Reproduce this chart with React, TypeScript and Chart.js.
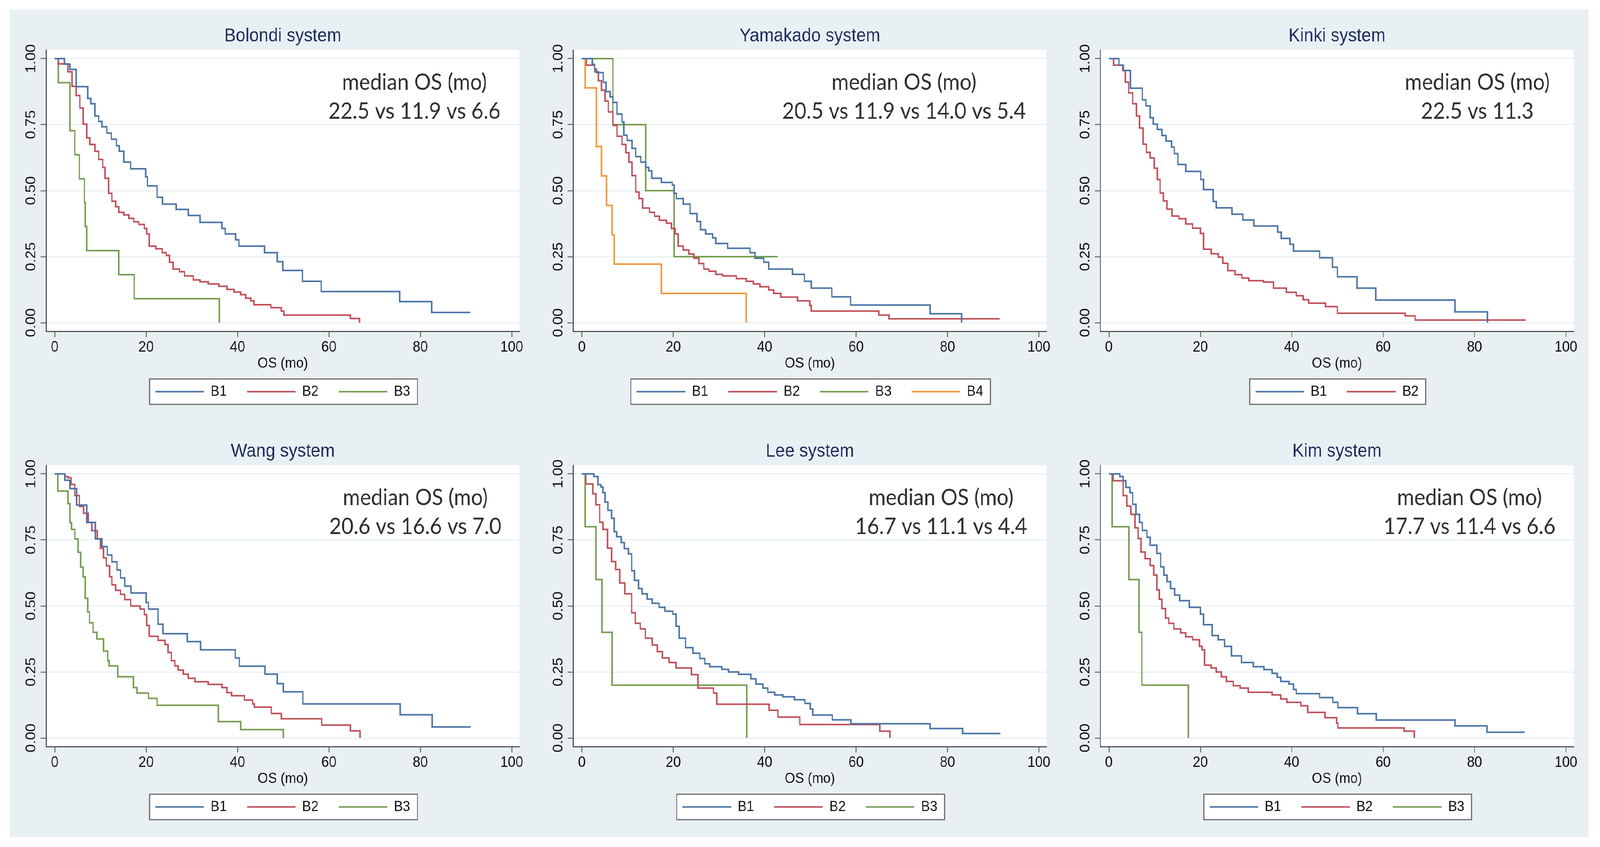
import React, { useEffect, useRef, useState } from 'react';
import { Chart, registerables } from 'chart.js';

Chart.register(...registerables);

// ---------- axis ticks & labels ----------
const xTickValues = [0, 20, 40, 60, 80, 100];
const yTickValues = [0, 0.25, 0.5, 0.75, 1];
const xAxisTitle = 'OS (mo)';
const noteHeader = 'median OS (mo)';

// ---------- Bolondi ----------
const bolondiB1Time = [0, 2.1, 3.3, 4.7, 7.2, 7.9, 8.8, 9.6, 10.3, 11.4, 12.4, 13.5, 14.1, 15.1, 16.6, 19.9, 20.3, 22.4, 23.6, 26.6, 29.2, 31.8, 36.6, 37.3, 39.6, 40.3, 45.9, 48.7, 49.9, 54.2, 58.3, 75.5, 82.5, 90.9];
const bolondiB1Surv = [1, 0.979, 0.959, 0.894, 0.849, 0.829, 0.783, 0.762, 0.742, 0.718, 0.695, 0.67, 0.649, 0.608, 0.583, 0.552, 0.518, 0.475, 0.449, 0.429, 0.406, 0.38, 0.357, 0.336, 0.314, 0.29, 0.265, 0.231, 0.198, 0.157, 0.118, 0.08, 0.039, 0.039];
const bolondiB2Time = [0, 0.8, 2.9, 3.8, 4.7, 5.5, 6.2, 7.0, 7.7, 8.8, 9.6, 10.5, 11.0, 11.8, 12.5, 13.3, 14.0, 15.1, 16.2, 17.3, 18.4, 19.6, 20.1, 20.7, 22.1, 23.5, 24.4, 25.1, 25.9, 27.3, 28.4, 30.3, 31.8, 33.6, 35.9, 37.7, 39.2, 40.7, 41.8, 42.9, 43.6, 47.3, 49.6, 50.1, 64.7, 66.7];
const bolondiB2Surv = [1, 0.98, 0.95, 0.895, 0.86, 0.813, 0.752, 0.7, 0.675, 0.649, 0.618, 0.588, 0.547, 0.49, 0.46, 0.439, 0.418, 0.408, 0.395, 0.382, 0.372, 0.357, 0.336, 0.29, 0.28, 0.265, 0.255, 0.229, 0.203, 0.193, 0.177, 0.162, 0.155, 0.147, 0.138, 0.126, 0.116, 0.106, 0.093, 0.083, 0.068, 0.057, 0.044, 0.029, 0.016, 0];
const bolondiB3Time = [0, 0.8, 3.3, 4.4, 5.4, 6.5, 6.7, 7.0, 14.0, 17.4, 36.0];
const bolondiB3Surv = [1, 0.909, 0.727, 0.636, 0.545, 0.455, 0.364, 0.273, 0.182, 0.091, 0];

// ---------- Yamakado ----------
const yamakadoB1Time = [0, 2.3, 2.8, 3.2, 4.7, 5.3, 6.2, 6.8, 7.7, 8.8, 9.2, 9.9, 11.0, 11.8, 12.9, 14.0, 14.6, 15.3, 17.4, 19.8, 20.2, 20.7, 22.2, 23.7, 25.2, 26.0, 27.1, 28.6, 29.3, 31.9, 36.8, 37.9, 39.8, 40.9, 46.1, 48.7, 50.2, 54.7, 58.8, 76.2, 83.1];
const yamakadoB1Surv = [1, 0.978, 0.96, 0.947, 0.91, 0.875, 0.855, 0.834, 0.79, 0.76, 0.71, 0.69, 0.66, 0.629, 0.608, 0.588, 0.575, 0.547, 0.531, 0.521, 0.49, 0.47, 0.449, 0.413, 0.383, 0.352, 0.336, 0.321, 0.3, 0.282, 0.265, 0.244, 0.229, 0.203, 0.183, 0.157, 0.131, 0.098, 0.067, 0.034, 0];
const yamakadoB2Time = [0, 1.0, 2.8, 3.6, 4.3, 5.1, 5.8, 6.8, 7.7, 8.8, 9.6, 10.3, 11.0, 11.8, 12.5, 13.3, 14.8, 15.9, 17.0, 18.5, 19.6, 20.4, 21.1, 22.2, 23.4, 24.5, 25.6, 26.7, 27.8, 29.3, 30.8, 33.8, 36.0, 37.5, 39.0, 40.9, 42.0, 43.5, 47.2, 49.9, 50.2, 65.0, 67.2, 91.4];
const yamakadoB2Surv = [1, 0.975, 0.95, 0.916, 0.88, 0.839, 0.798, 0.747, 0.706, 0.675, 0.644, 0.608, 0.557, 0.495, 0.47, 0.434, 0.418, 0.403, 0.388, 0.377, 0.357, 0.336, 0.29, 0.275, 0.26, 0.244, 0.224, 0.203, 0.195, 0.183, 0.177, 0.167, 0.157, 0.147, 0.136, 0.124, 0.111, 0.097, 0.083, 0.065, 0.044, 0.029, 0.015, 0.015];
const yamakadoB3Time = [0, 6.8, 14.0, 20.2, 42.9];
const yamakadoB3Surv = [1, 0.75, 0.5, 0.25, 0.25];
const yamakadoB4Time = [0, 0.7, 3.2, 4.3, 5.4, 6.6, 7.1, 17.4, 36.0];
const yamakadoB4Surv = [1, 0.889, 0.667, 0.556, 0.444, 0.333, 0.222, 0.111, 0];

// ---------- Kinki ----------
const kinkiB1Time = [0, 2.2, 3.2, 4.7, 7.3, 8.1, 9.0, 9.7, 10.6, 11.6, 12.5, 13.7, 14.3, 15.1, 16.8, 20.1, 20.7, 22.8, 23.5, 26.9, 29.3, 31.7, 36.9, 37.7, 39.6, 40.4, 46.1, 48.9, 50.0, 54.3, 58.4, 75.7, 82.8];
const kinkiB1Surv = [1, 0.975, 0.955, 0.888, 0.844, 0.821, 0.776, 0.752, 0.732, 0.709, 0.688, 0.665, 0.64, 0.599, 0.573, 0.542, 0.504, 0.459, 0.435, 0.411, 0.389, 0.366, 0.343, 0.319, 0.297, 0.271, 0.246, 0.21, 0.174, 0.131, 0.086, 0.041, 0];
const kinkiB2Time = [0, 1.0, 3.0, 3.6, 4.3, 5.2, 6.0, 6.7, 7.5, 8.2, 9.0, 9.9, 10.6, 11.2, 11.9, 12.7, 13.8, 15.3, 16.8, 18.3, 20.0, 20.7, 22.4, 23.9, 24.9, 26.0, 27.6, 29.1, 30.6, 33.8, 36.0, 38.8, 41.0, 42.5, 43.7, 47.4, 50.0, 64.8, 67.0, 91.2];
const kinkiB2Surv = [1, 0.975, 0.955, 0.911, 0.87, 0.829, 0.783, 0.737, 0.676, 0.645, 0.624, 0.585, 0.542, 0.491, 0.461, 0.43, 0.404, 0.394, 0.374, 0.358, 0.338, 0.278, 0.261, 0.248, 0.225, 0.197, 0.182, 0.169, 0.159, 0.154, 0.131, 0.115, 0.102, 0.087, 0.074, 0.061, 0.036, 0.026, 0.01, 0.01];

// ---------- Wang ----------
const wangB1Time = [0, 2.2, 3.3, 4.8, 7.0, 8.9, 10.3, 11.5, 12.5, 13.6, 14.4, 15.3, 16.7, 20.0, 20.5, 22.6, 23.7, 29.0, 31.9, 39.5, 40.4, 46.0, 48.7, 50.0, 54.3, 75.6, 82.6, 91.0];
const wangB1Surv = [1, 0.976, 0.944, 0.882, 0.816, 0.754, 0.725, 0.693, 0.667, 0.636, 0.606, 0.575, 0.549, 0.513, 0.488, 0.431, 0.395, 0.365, 0.334, 0.303, 0.272, 0.242, 0.206, 0.175, 0.129, 0.088, 0.042, 0.042];
const wangB2Time = [0, 2.2, 2.9, 3.6, 4.4, 5.4, 6.3, 7.3, 8.1, 9.3, 10.0, 10.7, 11.3, 12.0, 12.5, 13.3, 14.4, 15.3, 16.6, 18.7, 19.6, 20.1, 20.7, 22.6, 24.1, 24.8, 25.5, 26.3, 27.0, 28.1, 29.2, 30.7, 33.6, 36.6, 37.7, 38.7, 41.5, 43.3, 43.7, 47.4, 49.6, 58.4, 64.7, 66.8];
const wangB2Surv = [1, 0.99, 0.985, 0.96, 0.918, 0.877, 0.851, 0.816, 0.785, 0.754, 0.718, 0.682, 0.652, 0.611, 0.58, 0.559, 0.544, 0.524, 0.5, 0.488, 0.467, 0.426, 0.385, 0.37, 0.354, 0.324, 0.293, 0.273, 0.257, 0.242, 0.226, 0.213, 0.203, 0.191, 0.172, 0.16, 0.144, 0.129, 0.117, 0.093, 0.073, 0.049, 0.027, 0];
const wangB3Time = [0, 0.7, 2.9, 3.3, 3.7, 4.4, 5.1, 5.7, 6.2, 6.7, 7.2, 7.6, 8.4, 9.2, 10.7, 11.6, 11.9, 13.8, 17.2, 18.0, 20.5, 22.4, 35.8, 40.7, 50.0];
const wangB3Surv = [1, 0.935, 0.887, 0.815, 0.79, 0.754, 0.703, 0.647, 0.61, 0.529, 0.477, 0.436, 0.4, 0.375, 0.329, 0.293, 0.273, 0.232, 0.191, 0.17, 0.15, 0.124, 0.062, 0.032, 0];

// ---------- Lee ----------
const leeB1Time = [0, 2.6, 3.5, 4.2, 4.6, 5.1, 5.7, 6.5, 7.1, 7.6, 8.6, 9.3, 10.2, 10.9, 11.5, 12.4, 13.2, 14.3, 15.4, 16.9, 18.2, 19.9, 20.6, 21.3, 22.7, 24.3, 25.8, 26.9, 28.0, 30.6, 32.1, 34.3, 37.0, 38.1, 39.6, 40.7, 42.2, 44.0, 46.5, 48.8, 50.0, 50.5, 54.8, 58.9, 76.2, 83.3, 91.6];
const leeB1Surv = [1, 0.99, 0.959, 0.95, 0.929, 0.893, 0.862, 0.832, 0.781, 0.762, 0.74, 0.717, 0.697, 0.633, 0.597, 0.566, 0.546, 0.526, 0.51, 0.495, 0.48, 0.469, 0.423, 0.378, 0.342, 0.321, 0.301, 0.281, 0.27, 0.26, 0.25, 0.241, 0.224, 0.204, 0.189, 0.173, 0.163, 0.156, 0.145, 0.131, 0.11, 0.087, 0.069, 0.054, 0.036, 0.017, 0.017];
const leeB2Time = [0, 0.9, 2.4, 3.1, 3.9, 4.6, 5.6, 6.5, 7.4, 8.3, 9.4, 10.9, 11.7, 12.8, 13.9, 15.4, 16.5, 17.6, 19.1, 20.6, 24.0, 25.4, 28.8, 29.5, 41.0, 42.9, 47.7, 65.2, 67.4];
const leeB2Surv = [1, 0.962, 0.925, 0.883, 0.817, 0.79, 0.719, 0.668, 0.638, 0.587, 0.546, 0.474, 0.434, 0.413, 0.378, 0.352, 0.327, 0.303, 0.286, 0.265, 0.24, 0.189, 0.17, 0.128, 0.105, 0.079, 0.051, 0.026, 0];
const leeB3Time = [0, 0.7, 3.1, 4.4, 6.6, 36.1];
const leeB3Surv = [1, 0.8, 0.6, 0.4, 0.2, 0];

// ---------- Kim ----------
const kimB1Time = [0, 2.4, 3.1, 3.7, 4.6, 5.2, 5.9, 6.7, 7.3, 8.3, 9.0, 10.5, 11.3, 12.0, 12.7, 13.5, 14.4, 15.5, 17.6, 20.0, 20.7, 22.6, 23.9, 25.3, 26.8, 29.0, 31.6, 33.9, 35.7, 36.8, 37.6, 39.4, 40.4, 41.0, 46.1, 49.0, 50.1, 54.4, 58.5, 75.7, 82.7, 91.0];
const kimB1Surv = [1, 0.99, 0.974, 0.949, 0.929, 0.885, 0.847, 0.816, 0.786, 0.76, 0.73, 0.699, 0.648, 0.617, 0.592, 0.566, 0.541, 0.52, 0.495, 0.469, 0.429, 0.388, 0.372, 0.347, 0.311, 0.286, 0.27, 0.259, 0.245, 0.23, 0.214, 0.204, 0.184, 0.168, 0.153, 0.135, 0.115, 0.092, 0.068, 0.046, 0.022, 0.022];
const kimB2Time = [0, 0.9, 3.1, 3.9, 4.8, 5.7, 6.4, 7.0, 7.9, 9.0, 9.8, 10.5, 11.0, 11.6, 12.4, 13.1, 14.2, 15.7, 16.8, 18.3, 19.8, 20.4, 20.9, 22.4, 23.5, 24.6, 25.7, 27.2, 28.7, 30.5, 35.7, 37.6, 38.9, 42.0, 43.5, 47.3, 49.8, 50.1, 64.6, 66.8];
const kimB2Surv = [1, 0.974, 0.918, 0.878, 0.847, 0.796, 0.755, 0.704, 0.679, 0.653, 0.617, 0.561, 0.525, 0.49, 0.454, 0.434, 0.413, 0.398, 0.383, 0.372, 0.347, 0.334, 0.276, 0.265, 0.25, 0.232, 0.214, 0.198, 0.189, 0.173, 0.163, 0.148, 0.135, 0.122, 0.097, 0.077, 0.056, 0.038, 0.026, 0];
const kimB3Time = [0, 0.7, 4.4, 6.6, 7.2, 17.4];
const kimB3Surv = [1, 0.8, 0.6, 0.4, 0.2, 0];

// ---------- median notes ----------
const bolondiMedians = '22.5 vs 11.9 vs 6.6';
const yamakadoMedians = '20.5 vs 11.9 vs 14.0 vs 5.4';
const kinkiMedians = '22.5 vs 11.3';
const wangMedians = '20.6 vs 16.6 vs 7.0';
const leeMedians = '16.7 vs 11.1 vs 4.4';
const kimMedians = '17.7 vs 11.4 vs 6.6';

// ---------- styles ----------
const LINE_COLORS = ['#4a74a5', '#c04f58', '#759d52', '#f3983a'];
const PAGE_W = 4447;
const PAGE_H = 2168;
const CANVAS_W = 1464;
const CANVAS_H = 1060;
const COL_LEFT = [27, 1492, 2957];
const ROW_TOP = [24, 1087];
const SANS = '"Liberation Sans", Arial, Helvetica, sans-serif';
const NOTE_FONT = 'Lato, "Open Sans", sans-serif';

type Panel = {
  title: string;
  series: [number[], number[]][];
  labels: string[];
  medians: string;
  noteX: number;
  col: number;
  row: number;
};

const panels: Panel[] = [
  { title: 'Bolondi system', series: [[bolondiB1Time, bolondiB1Surv], [bolondiB2Time, bolondiB2Surv], [bolondiB3Time, bolondiB3Surv]], labels: ['B1', 'B2', 'B3'], medians: bolondiMedians, noteX: 78.7, col: 0, row: 0 },
  { title: 'Yamakado system', series: [[yamakadoB1Time, yamakadoB1Surv], [yamakadoB2Time, yamakadoB2Surv], [yamakadoB3Time, yamakadoB3Surv], [yamakadoB4Time, yamakadoB4Surv]], labels: ['B1', 'B2', 'B3', 'B4'], medians: yamakadoMedians, noteX: 70.5, col: 1, row: 0 },
  { title: 'Kinki system', series: [[kinkiB1Time, kinkiB1Surv], [kinkiB2Time, kinkiB2Surv]], labels: ['B1', 'B2'], medians: kinkiMedians, noteX: 80.6, col: 2, row: 0 },
  { title: 'Wang system', series: [[wangB1Time, wangB1Surv], [wangB2Time, wangB2Surv], [wangB3Time, wangB3Surv]], labels: ['B1', 'B2', 'B3'], medians: wangMedians, noteX: 78.9, col: 0, row: 1 },
  { title: 'Lee system', series: [[leeB1Time, leeB1Surv], [leeB2Time, leeB2Surv], [leeB3Time, leeB3Surv]], labels: ['B1', 'B2', 'B3'], medians: leeMedians, noteX: 78.6, col: 1, row: 1 },
  { title: 'Kim system', series: [[kimB1Time, kimB1Surv], [kimB2Time, kimB2Surv], [kimB3Time, kimB3Surv]], labels: ['B1', 'B2', 'B3'], medians: kimMedians, noteX: 78.9, col: 2, row: 1 },
];

const decorPlugin = {
  id: 'decor',
  beforeDraw(chart: any) {
    const { ctx, chartArea } = chart;
    ctx.save();
    ctx.fillStyle = '#ffffff';
    ctx.fillRect(chartArea.left, chartArea.top, chartArea.right - chartArea.left, chartArea.bottom - chartArea.top);
    const lg = chart.legend;
    if (lg && lg.legendHitBoxes && lg.legendHitBoxes.length) {
      const hb = lg.legendHitBoxes;
      const first = hb[0];
      const last = hb[hb.length - 1];
      const cy = first.top + first.height / 2;
      const x0 = first.left - 16;
      const x1 = last.left + last.width + 20;
      ctx.fillStyle = '#ffffff';
      ctx.fillRect(x0, cy - 32.5, x1 - x0, 65);
      ctx.strokeStyle = '#6a6a6a';
      ctx.lineWidth = 3;
      ctx.strokeRect(x0, cy - 32.5, x1 - x0, 65);
    }
    ctx.restore();
  },
  afterDatasetsDraw(chart: any) {
    const o = chart.config.options.plugins.decor;
    if (!o) return;
    const { ctx, scales } = chart;
    ctx.save();
    ctx.fillStyle = '#303030';
    ctx.textAlign = 'center';
    ctx.textBaseline = 'middle';
    ctx.font = `400 ${o.size}px ${NOTE_FONT}`;
    const px = scales.x.getPixelForValue(o.x);
    o.lines.forEach((t: string, i: number) => {
      ctx.fillText(t, px, scales.y.getPixelForValue(o.y[i]));
    });
    ctx.restore();
  },
};

function PanelChart({ p }: { p: Panel }) {
  const ref = useRef<HTMLCanvasElement | null>(null);
  useEffect(() => {
    if (!ref.current) return;
    const tickFont = { family: SANS, size: 38, lineHeight: 1 };
    const chart = new Chart(ref.current, {
      type: 'line',
      data: {
        datasets: p.series.map(([t, s], i) => ({
          label: p.labels[i],
          data: t.map((tv, k) => ({ x: tv, y: s[k] })),
          borderColor: LINE_COLORS[i],
          backgroundColor: LINE_COLORS[i],
          borderWidth: 4,
          pointRadius: 0,
          pointHoverRadius: 0,
          stepped: true,
          fill: false,
        })),
      },
      options: {
        animation: false,
        responsive: false,
        devicePixelRatio: 1,
        events: [],
        layout: { padding: { left: 0, right: 47, top: 0, bottom: 53 } },
        plugins: {
          title: {
            display: true,
            text: p.title,
            fullSize: false,
            color: '#1e2b5e',
            font: { family: SANS, size: 48, weight: 'normal', lineHeight: 1 },
            padding: { top: 45, bottom: 11 },
          },
          legend: {
            position: 'bottom',
            fullSize: false,
            labels: {
              boxWidth: 135,
              boxHeight: 4,
              padding: 56,
              color: '#111111',
              font: { family: SANS, size: 37, lineHeight: 1 },
              generateLabels: (c: any) =>
                (Chart.defaults.plugins.legend.labels.generateLabels as any)(c).map((l: any) => ({ ...l, lineWidth: 0 })),
            },
          },
          tooltip: { enabled: false },
          decor: { lines: [noteHeader, p.medians], x: p.noteX, y: [0.91, 0.8], size: 58 },
        } as any,
        scales: {
          x: {
            type: 'linear',
            min: -1.9,
            max: 101.7,
            afterBuildTicks: (s: any) => { s.ticks = xTickValues.map((v) => ({ value: v })); },
            afterFit: (s: any) => { s.height = 80; },
            grid: { drawOnChartArea: false, tickLength: 15, tickColor: '#7a7a7a', tickWidth: 3 },
            border: { color: '#555555', width: 3 },
            ticks: { padding: 8, color: '#111111', font: tickFont, maxRotation: 0, autoSkip: false },
            title: { display: true, text: xAxisTitle, color: '#111111', font: { family: SANS, size: 37, lineHeight: 1 }, padding: { top: 0, bottom: -21 } },
          },
          y: {
            type: 'linear',
            min: -0.0325,
            max: 1.0325,
            afterBuildTicks: (s: any) => { s.ticks = yTickValues.map((v) => ({ value: v })); },
            afterFit: (s: any) => { s.width = 101; },
            grid: { color: '#e9f1f4', lineWidth: 3, tickLength: 15, tickColor: '#7a7a7a', tickWidth: 3 },
            border: { color: '#555555', width: 3 },
            ticks: {
              minRotation: 90,
              maxRotation: 90,
              crossAlign: 'center',
              padding: -11,
              color: '#111111',
              font: tickFont,
              autoSkip: false,
              callback: (v: any) => Number(v).toFixed(2),
            },
          },
        },
      } as any,
      plugins: [decorPlugin as any],
    });
    return () => chart.destroy();
  }, [p]);
  return (
    <canvas
      ref={ref}
      width={CANVAS_W}
      height={CANVAS_H}
      style={{ position: 'absolute', left: COL_LEFT[p.col], top: ROW_TOP[p.row], width: CANVAS_W, height: CANVAS_H }}
    />
  );
}

export default function App() {
  // The browser viewport may be narrower than the figure (it is capped); fit the figure's width to it.
  const [sx, setSx] = useState(() => (typeof window !== 'undefined' ? Math.min(1, window.innerWidth / PAGE_W) : 1));
  useEffect(() => {
    const onResize = () => setSx(Math.min(1, window.innerWidth / PAGE_W));
    window.addEventListener('resize', onResize);
    return () => window.removeEventListener('resize', onResize);
  }, []);
  return (
    <div style={{ position: 'fixed', left: 0, top: 0, width: '100vw', height: '100vh', overflow: 'hidden', background: '#ffffff' }}>
      <div
        style={{
          position: 'absolute',
          left: 0,
          top: 0,
          width: PAGE_W,
          height: PAGE_H,
          background: '#ffffff',
          transform: `scaleX(${sx})`,
          transformOrigin: '0 0',
        }}
      >
        <div style={{ position: 'absolute', left: 27, top: 24, width: 4388, height: 2119, background: '#e8f0f3' }} />
        {panels.map((p) => (
          <PanelChart key={p.title} p={p} />
        ))}
      </div>
    </div>
  );
}
